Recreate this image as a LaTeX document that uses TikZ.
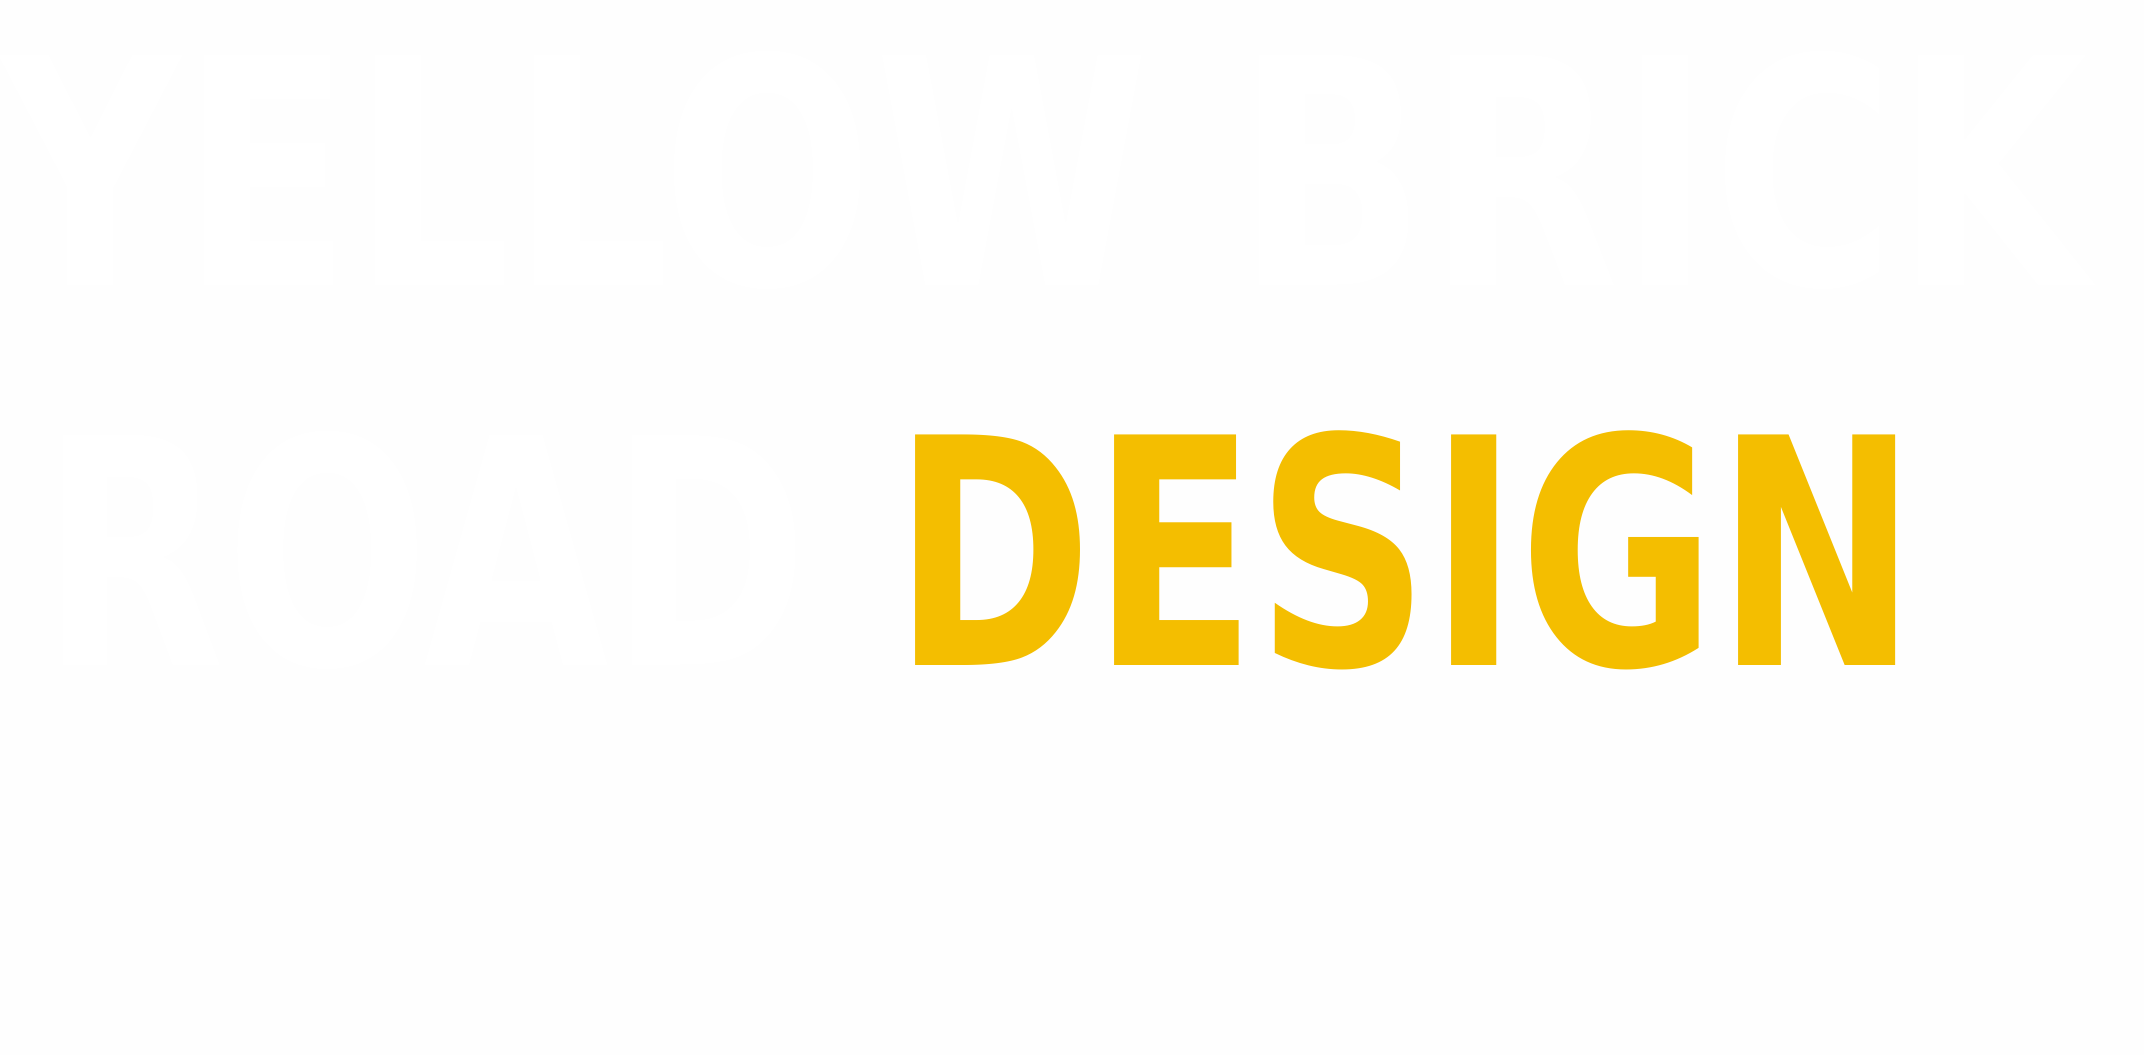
\documentclass[tikz,border=0pt]{standalone}
\usepackage{fontspec}
\setmainfont{DejaVu Sans}
\definecolor{brickyellow}{RGB}{244,190,0}
\definecolor{paper}{RGB}{254,254,254}
\begin{document}
\begin{tikzpicture}[logo/.style={inner sep=0pt, anchor=base west, font=\bfseries\fontsize{90}{90}\selectfont}]

		\fill[paper, use as bounding box] (0,0) rectangle (21.44,10.55);

		\node[logo, text=white] (top) at (0,7.70) {\scalebox{0.79}[1]{YELLOW BRICK}};
		\node[logo, text=white] (road) at (0.4,3.90) {\scalebox{0.76}[1]{ROAD \textcolor{brickyellow}{DESIGN}}};

		\end{tikzpicture}
\end{document}
